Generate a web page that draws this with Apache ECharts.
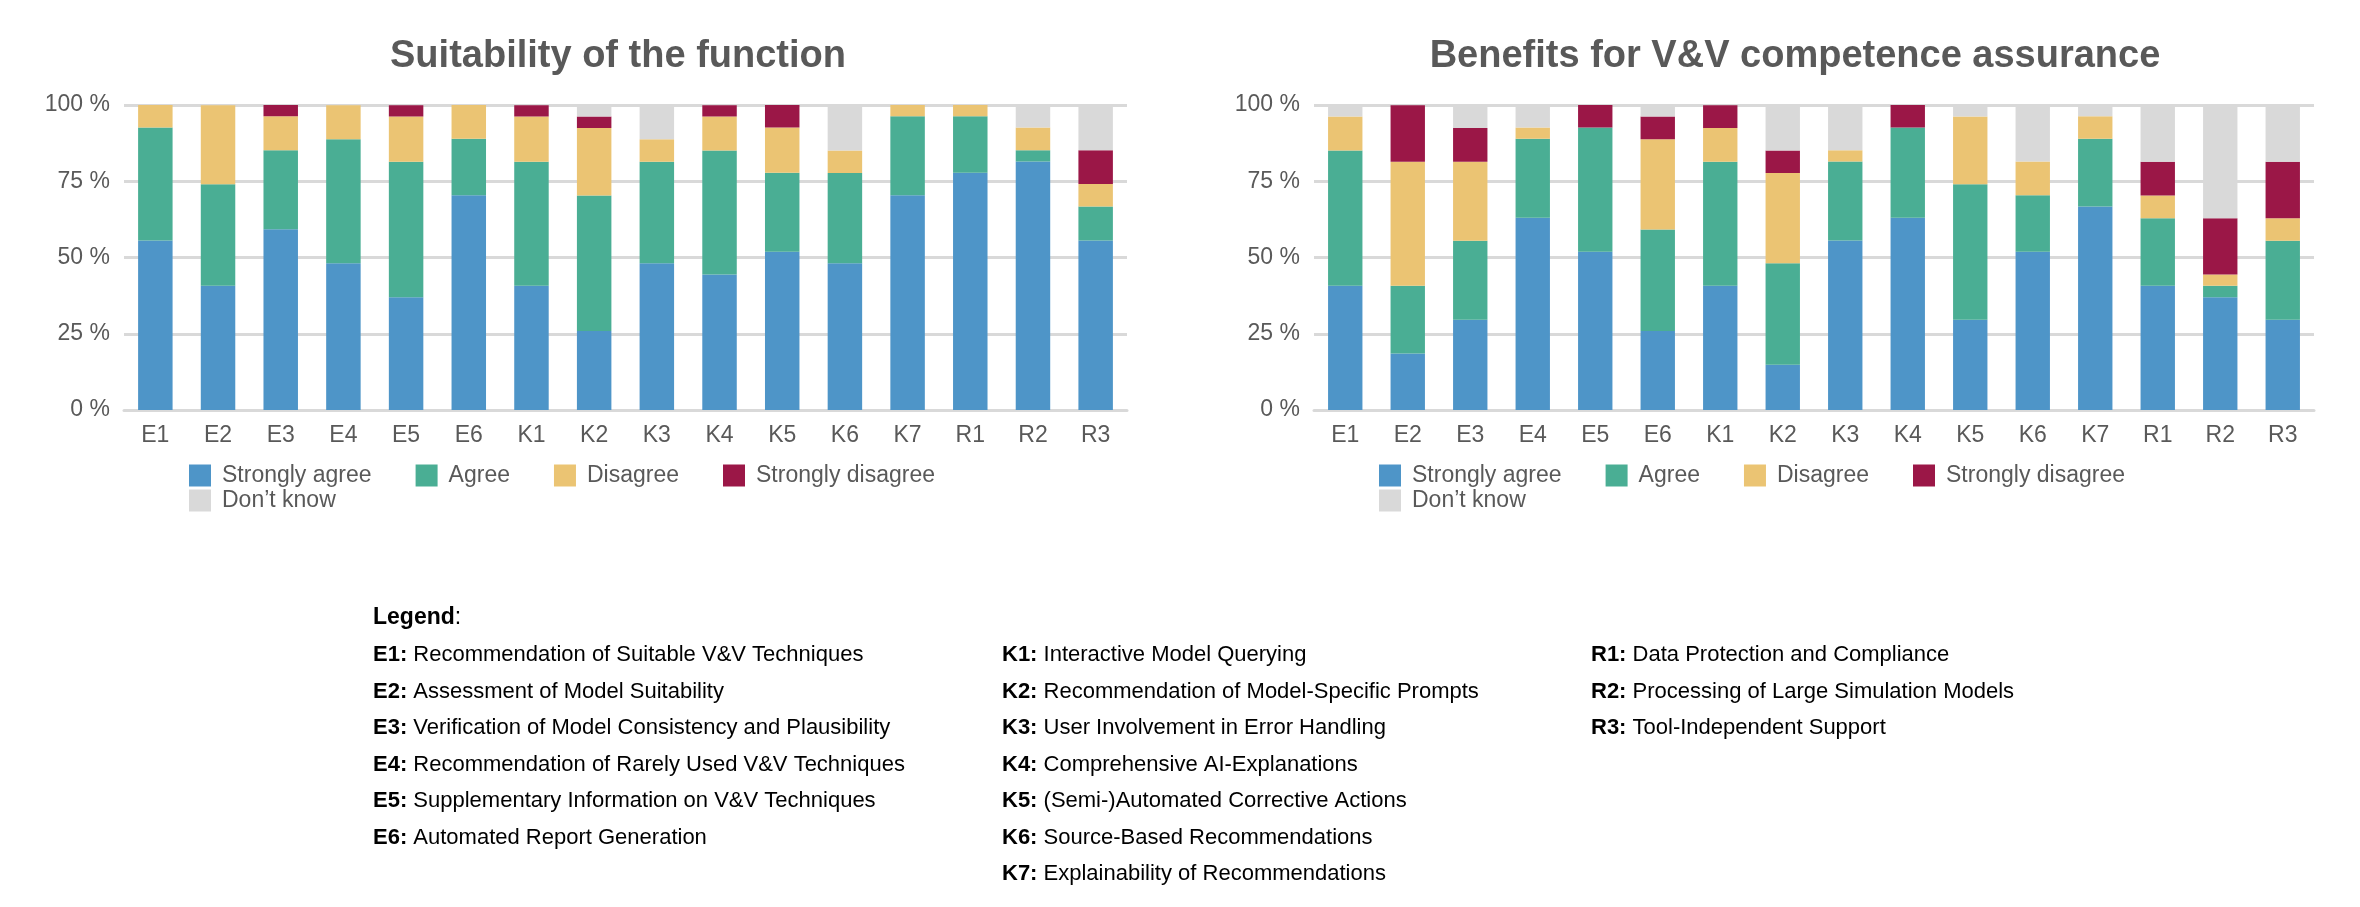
<!DOCTYPE html>
<html>
<head>
<meta charset="utf-8">
<script src="https://cdn.jsdelivr.net/npm/echarts@6/dist/echarts.min.js"></script>
<style>html,body{margin:0;padding:0;background:#fff}#c{width:2360px;height:907px}</style>
</head>
<body>
<div id="c"></div>
<script>
var categories = ['E1','E2','E3','E4','E5','E6','K1','K2','K3','K4','K5','K6','K7','R1','R2','R3'];
var seriesNames = ['Strongly agree','Agree','Disagree','Strongly disagree','Don\u2019t know'];
var colors = ['#4e95c8','#4aae94','#ebc473','#9b1747','#d9d9d9'];
var yTicks = [0, 25, 50, 75, 100];

// Suitability of the function (percent)
var suitStronglyAgree = [55.6,40.7,59.3,48.1,37.0,70.4,40.7,25.9,48.1,44.4,51.9,48.1,70.4,77.8,81.5,55.6];
var suitAgree         = [37.0,33.3,25.9,40.7,44.4,18.5,40.7,44.4,33.3,40.7,25.9,29.6,25.9,18.5,3.7,11.1];
var suitDisagree      = [7.4,25.9,11.1,11.1,14.8,11.1,14.8,22.2,7.4,11.1,14.8,7.4,3.7,3.7,7.4,7.4];
var suitStrongDis     = [0,0,3.7,0,3.7,0,3.7,3.7,0,3.7,7.4,0,0,0,0,11.1];
var suitDontKnow      = [0,0,0,0,0,0,0,3.7,11.1,0,0,14.8,0,0,7.4,14.8];

// Benefits for V&V competence assurance (percent)
var benStronglyAgree = [40.7,18.5,29.6,63.0,51.9,25.9,40.7,14.8,55.6,63.0,29.6,51.9,66.7,40.7,37.0,29.6];
var benAgree         = [44.4,22.2,25.9,25.9,40.7,33.3,40.7,33.3,25.9,29.6,44.4,18.5,22.2,22.2,3.7,25.9];
var benDisagree      = [11.1,40.7,25.9,3.7,0,29.6,11.1,29.6,3.7,0,22.2,11.1,7.4,7.4,3.7,7.4];
var benStrongDis     = [0,18.5,11.1,0,7.4,7.4,7.4,7.4,0,7.4,0,0,0,11.1,18.5,18.5];
var benDontKnow      = [3.7,0,7.4,7.4,0,3.7,0,14.8,14.8,0,3.7,18.5,3.7,18.5,37.0,18.5];

var legendRows = [
  [['E1','Recommendation of Suitable V&V Techniques'],['E2','Assessment of Model Suitability'],['E3','Verification of Model Consistency and Plausibility'],['E4','Recommendation of Rarely Used V&V Techniques'],['E5','Supplementary Information on V&V Techniques'],['E6','Automated Report Generation']],
  [['K1','Interactive Model Querying'],['K2','Recommendation of Model-Specific Prompts'],['K3','User Involvement in Error Handling'],['K4','Comprehensive AI-Explanations'],['K5','(Semi-)Automated Corrective Actions'],['K6','Source-Based Recommendations'],['K7','Explainability of Recommendations']],
  [['R1','Data Protection and Compliance'],['R2','Processing of Large Simulation Models'],['R3','Tool-Independent Support']]
];

var chart = echarts.init(document.getElementById('c'));
var font = 'Liberation Sans, Arial, sans-serif';
var grey = '#595959';

function makeSeries(data, idx) {
  return data.map(function (d, i) {
    return {
      name: seriesNames[i], type: 'bar', stack: 's' + idx,
      xAxisIndex: idx, yAxisIndex: idx, barWidth: '55%',
      itemStyle: {color: colors[i]}, data: d
    };
  });
}

function xAxis(idx) {
  return {type: 'category', gridIndex: idx, data: categories,
    axisLine: {lineStyle: {color: '#d9d9d9', width: 3}}, axisTick: {show: false},
    axisLabel: {color: grey, fontSize: 23, fontFamily: font, margin: 14}};
}
function yAxis(idx) {
  return {type: 'value', gridIndex: idx, min: yTicks[0], max: yTicks[yTicks.length - 1], interval: 25,
    axisLabel: {color: grey, fontSize: 23, fontFamily: font, formatter: '{value} %', margin: 14},
    splitLine: {lineStyle: {color: '#d9d9d9', width: 3}}};
}
function legends(left) {
  var ts = {color: grey, fontSize: 23, fontFamily: font, padding: [0, 0, 0, 6]};
  return [
    {left: left, top: 459, itemWidth: 22, itemHeight: 22, itemGap: 44, icon: 'rect', textStyle: ts,
      data: seriesNames.slice(0, 4)},
    {left: left, top: 484, itemWidth: 22, itemHeight: 22, icon: 'rect', textStyle: ts,
      data: seriesNames.slice(4)}
  ];
}

var graphics = [{type: 'text', left: 373, top: 606,
  style: {text: '{b|Legend}:', font: '23px Liberation Sans', fill: '#000', rich: {b: {fontWeight: 'bold', fontSize: 23, fontFamily: font}}}}];
var colX = [373, 1002, 1591];
legendRows.forEach(function (col, c) {
  col.forEach(function (r, i) {
    graphics.push({type: 'text', left: colX[c], top: 644 + i * 36.5,
      style: {text: '{b|' + r[0] + ':} ' + r[1], fontSize: 22, fontFamily: font, fill: '#000',
        rich: {b: {fontWeight: 'bold', fontSize: 22, fontFamily: font}}}});
  });
});

chart.setOption({
  animation: false,
  title: [
    {text: 'Suitability of the function', left: 613, top: 33, textAlign: 'center',
      textStyle: {fontSize: 38, fontWeight: 'bold', color: grey, fontFamily: font}},
    {text: 'Benefits for V&V competence assurance', left: 1790, top: 33, textAlign: 'center',
      textStyle: {fontSize: 38, fontWeight: 'bold', color: grey, fontFamily: font}}
  ],
  legend: legends(184).concat(legends(1374)),
  grid: [
    {left: 124, top: 105, width: 1003, height: 305},
    {left: 1314, top: 105, width: 1000, height: 305}
  ],
  xAxis: [xAxis(0), xAxis(1)],
  yAxis: [yAxis(0), yAxis(1)],
  series: makeSeries([suitStronglyAgree, suitAgree, suitDisagree, suitStrongDis, suitDontKnow], 0)
    .concat(makeSeries([benStronglyAgree, benAgree, benDisagree, benStrongDis, benDontKnow], 1)),
  graphic: graphics
});
</script>
</body>
</html>
